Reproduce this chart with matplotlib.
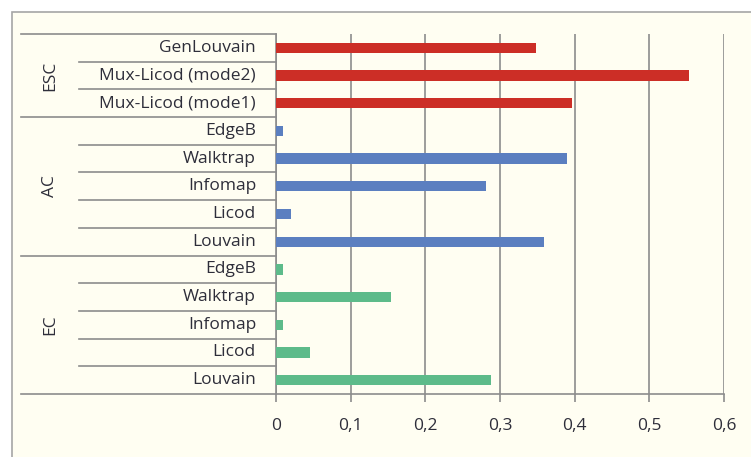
import matplotlib
matplotlib.use('Agg')
import matplotlib.pyplot as plt
from matplotlib.patches import Rectangle
import matplotlib.transforms as mtransforms

plt.rcParams['font.family'] = ['Open Sans', 'DejaVu Sans']

# groups from bottom to top
groups = ["EC", "AC", "ESC"]
ec_labels = ["Louvain", "Licod", "Infomap", "Walktrap", "EdgeB"]
ec_values = [0.288, 0.045, 0.01, 0.154, 0.01]
ac_labels = ["Louvain", "Licod", "Infomap", "Walktrap", "EdgeB"]
ac_values = [0.359, 0.02, 0.281, 0.39, 0.01]
esc_labels = ["Mux-Licod (mode1)", "Mux-Licod (mode2)", "GenLouvain"]
esc_values = [0.396, 0.553, 0.348]
colors = ["#5DBB8A", "#5B7FC0", "#CC2E26"]
xticks = [0, 0.1, 0.2, 0.3, 0.4, 0.5, 0.6]

W, H = 751, 457
fig = plt.figure(figsize=(W / 100, H / 100), dpi=100)
fig.patch.set_facecolor('white')
# outer chart box
fig.patches.append(Rectangle((12 / W, -0.1), 1.1, 1 - 12 / H + 0.1, transform=fig.transFigure,
                             facecolor='#FFFEF2', edgecolor='#A6A6A6', linewidth=1.2, zorder=-10))

ax = fig.add_axes([276 / W, 1 - 394 / H, 448 / W, (394 - 34) / H])
ax.set_facecolor('none')

all_labels = ec_labels + ac_labels + esc_labels
all_values = ec_values + ac_values + esc_values
sizes = [len(ec_labels), len(ac_labels), len(esc_labels)]
bar_colors = []
for c, n in zip(colors, sizes):
    bar_colors += [c] * n

txt = '#2E2E3A'
fs = 12.5

ypos = list(range(len(all_labels)))
ax.barh(ypos, all_values, height=0.37, color=bar_colors, zorder=3)
ax.set_xlim(0, 0.6)
ax.set_ylim(-0.5, len(all_labels) - 0.5)
ax.set_xticks(xticks)
ax.set_xticklabels([str(t).replace('.', ',') if t else '0' for t in xticks], fontsize=fs, color=txt)
ax.tick_params(axis='x', length=6, width=1.2, color='#8C8C8C', pad=11)
ax.set_yticks([])
ax.grid(axis='x', color='#8C8C8C', linewidth=1.2, zorder=1)
for s in ['top', 'right']:
    ax.spines[s].set_visible(False)
for s in ['left', 'bottom']:
    ax.spines[s].set_color('#8C8C8C')
    ax.spines[s].set_linewidth(1.2)

trans = mtransforms.blended_transform_factory(ax.transAxes, ax.transData)
x_full = (21 - 276) / 448
x_cat = (79 - 276) / 448
x_lab = (256 - 276) / 448
x_grp = (50 - 276) / 448

for y, lab in zip(ypos, all_labels):
    ax.text(x_lab, y, lab, transform=trans, ha='right', va='center', fontsize=fs, color=txt)

start = 0
for g, n in zip(groups, sizes):
    lo = start - 0.5
    hi = start + n - 0.5
    ax.plot([x_full, 0], [lo, lo], transform=trans, color='#8C8C8C', lw=1.2, clip_on=False)
    for k in range(1, n):
        ax.plot([x_cat, 0], [lo + k, lo + k], transform=trans, color='#8C8C8C', lw=1.2, clip_on=False)
    ax.text(x_grp, (lo + hi) / 2, g, transform=trans, rotation=90, ha='center', va='center',
            fontsize=fs, color=txt)
    start += n
ax.plot([x_full, 0], [start - 0.5, start - 0.5], transform=trans, color='#8C8C8C', lw=1.2, clip_on=False)

fig.savefig('out.png', dpi=100)
